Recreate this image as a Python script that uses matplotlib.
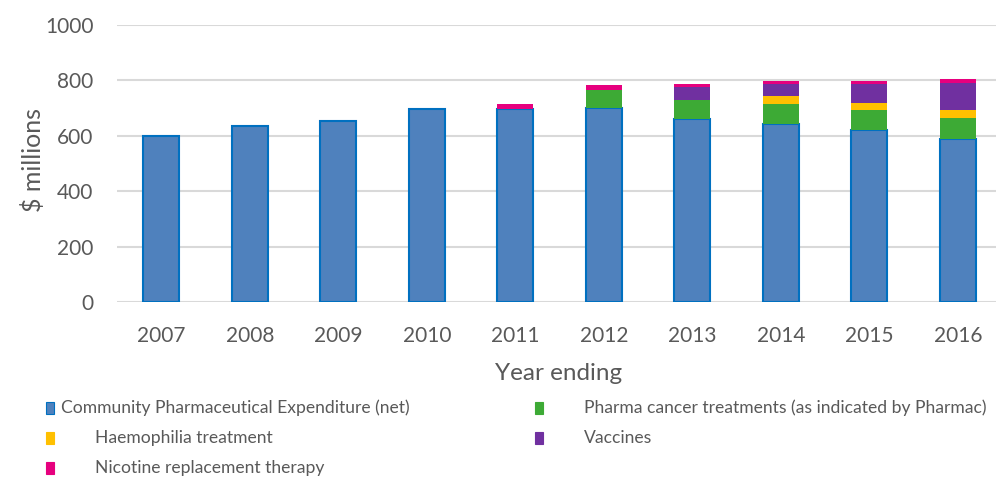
import matplotlib
matplotlib.use("Agg")
import matplotlib.pyplot as plt
from matplotlib.patches import Rectangle

plt.rcParams['font.family'] = ['Lato', 'DejaVu Sans']

years = ['2007', '2008', '2009', '2010', '2011', '2012', '2013', '2014', '2015', '2016']
community = [601, 637, 655, 695, 697, 699, 659, 643, 620, 587]
cancer = [0, 0, 0, 0, 0, 67, 71, 72, 73, 78]
haemophilia = [0, 0, 0, 0, 0, 0, 0, 27, 27, 28]
vaccines = [0, 0, 0, 0, 0, 0, 45, 44, 68, 97]
nicotine = [0, 0, 0, 0, 16, 16, 13, 13, 11, 14]

series = [
    ('Community Pharmaceutical Expenditure (net)', community, '#4F81BD', '#0070C0'),
    ('Pharma cancer treatments (as indicated by Pharmac)', cancer, '#3DAA35', '#3DAA35'),
    ('Haemophilia treatment', haemophilia, '#FFC000', '#FFC000'),
    ('Vaccines', vaccines, '#7030A0', '#7030A0'),
    ('Nicotine replacement therapy', nicotine, '#E6007E', '#E6007E'),
]

grey = '#595959'
fig = plt.figure(figsize=(9.96, 4.78), dpi=100)
ax = fig.add_axes([117 / 996, 176 / 478, 879 / 996, 277 / 478])

x = list(range(len(years)))
bottom = [0] * len(years)
for name, vals, fc, ec in series:
    lw = 1.5 if name.startswith('Community') else 0
    ax.bar(x, vals, 0.41, bottom=bottom, color=fc, edgecolor=ec, linewidth=lw, zorder=3)
    bottom = [b + v for b, v in zip(bottom, vals)]

ax.set_xlim(-0.5, -0.5 + 879 / 88.5)
ax.set_ylim(0, 1000)
ax.set_yticks(range(0, 1001, 200))
ax.set_xticks(x)
ax.set_xticklabels(years)
ax.grid(axis='y', color='#D9D9D9', linewidth=1.5, zorder=0)
for s in ax.spines.values():
    s.set_visible(False)
ax.tick_params(length=0, labelsize=15, colors=grey)
ax.tick_params(axis='x', pad=17)
ax.tick_params(axis='y', pad=17)
fig.text(33 / 996, 1 - 160 / 478, '$ millions', fontsize=18, color=grey, rotation=90,
         ha='center', va='center')
fig.text(559 / 996, 1 - 373 / 478, 'Year ending', fontsize=17.5, color=grey, ha='center', va='center')

# legend
legend_pos = [
    (46, 408, 61),
    (535, 408, 584),
    (46, 438, 95),
    (535, 438, 584),
    (46, 468, 95),
]
for (name, vals, fc, ec), (mx, my, tx) in zip(series, legend_pos):
    fig.patches.append(Rectangle((mx / 996, 1 - (my + 6) / 478), 8 / 996, 12 / 478,
                                 transform=fig.transFigure, facecolor=fc,
                                 edgecolor=ec, linewidth=0.8))
    fig.text(tx / 996, 1 - my / 478, name, fontsize=12.6, color=grey, va='center', ha='left')

fig.savefig('out.png', dpi=100)
